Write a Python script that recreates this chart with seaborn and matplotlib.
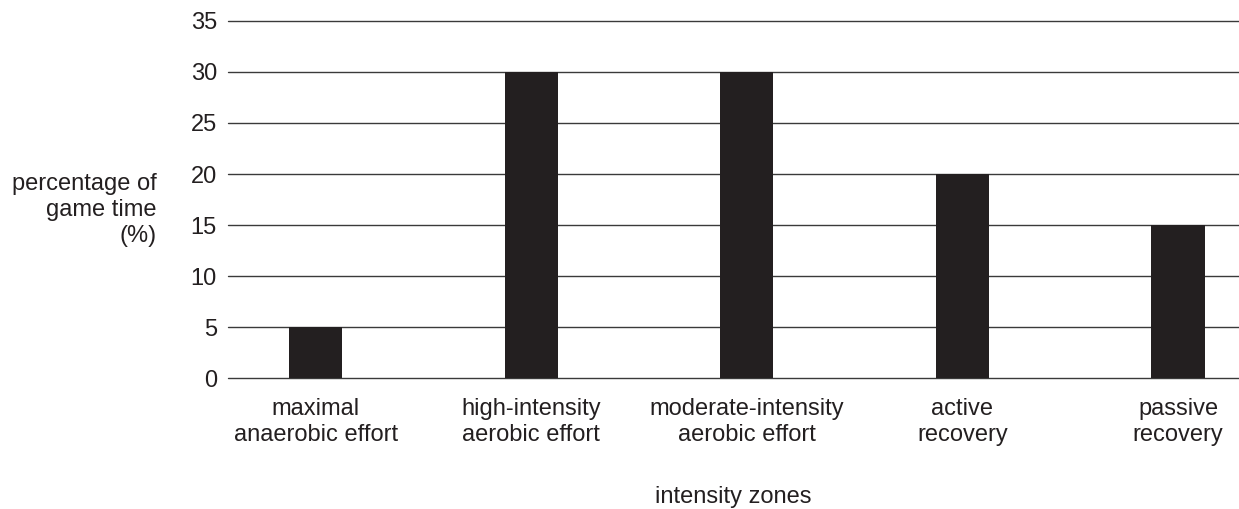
import pandas as pd
import seaborn as sns
import matplotlib.pyplot as plt

# data
zones = ["maximal\nanaerobic effort",
         "high-intensity\naerobic effort",
         "moderate-intensity\naerobic effort",
         "active\nrecovery",
         "passive\nrecovery"]
percent = [5, 30, 30, 20, 15]
y_ticks = [0, 5, 10, 15, 20, 25, 30, 35]

df = pd.DataFrame({"zone": zones, "percent": percent})

sns.set_style("white")
plt.rcParams["font.family"] = ["Liberation Sans", "DejaVu Sans"]

fig = plt.figure(figsize=(12.39, 5.09), dpi=100)
ax = fig.add_axes([0.184, 0.257, 0.816, 0.702])

sns.barplot(x="zone", y="percent", data=df, color="#231f20", width=0.246,
            saturation=1, errorbar=None, linewidth=0, ax=ax, zorder=3)

ax.set_ylim(0, 35)
ax.set_yticks(y_ticks)
ax.set_xlim(-0.408, 4.283)
for y in y_ticks:
    ax.axhline(y, color="#3a3a3a", lw=1.0, zorder=1, clip_on=False)

for s in ax.spines.values():
    s.set_visible(False)

ax.tick_params(axis="y", length=0, pad=8, labelsize=17, colors="#231f20")
ax.tick_params(axis="x", length=0, pad=14, labelsize=17, colors="#231f20")
for lbl in ax.get_xticklabels():
    lbl.set_linespacing(1.25)

ax.set_xlabel("intensity zones", fontsize=17, color="#231f20", labelpad=29)
ax.set_ylabel("")
fig.text(157 / 1239, 1 - 210 / 509, "percentage of\ngame time\n(%)",
         ha="right", va="center", fontsize=17, color="#231f20",
         linespacing=1.25)

fig.savefig("out.png", dpi=100)
